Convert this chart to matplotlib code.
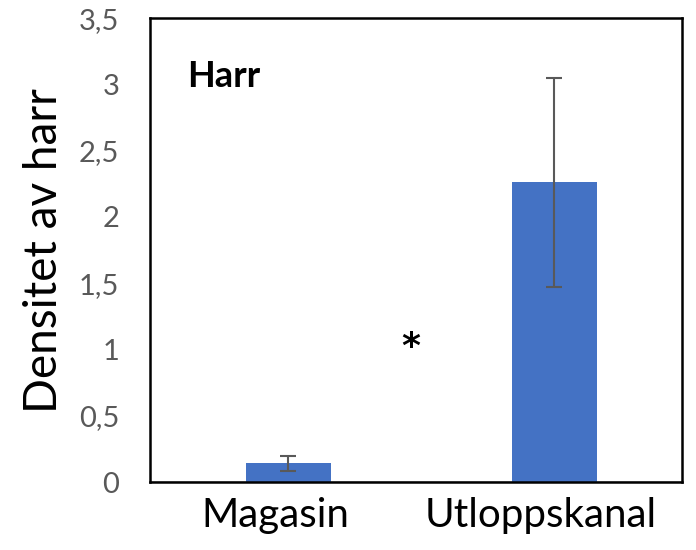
import matplotlib.pyplot as plt
from matplotlib.ticker import FuncFormatter

categories = ['Magasin', 'Utloppskanal']
values = [0.14, 2.26]
errors = [0.06, 0.79]
yticks = [0, 0.5, 1, 1.5, 2, 2.5, 3, 3.5]

plt.rcParams['font.family'] = ['Lato', 'DejaVu Sans']

fig = plt.figure(figsize=(6.96, 5.5), dpi=100)
ax = fig.add_axes([0.2155, 0.1236, 0.7645, 0.8434])

x = list(range(len(categories)))
ax.bar(x, values, width=0.32, color='#4472C4', zorder=2)
ax.errorbar(x, values, yerr=errors, fmt='none', ecolor='#595959',
            elinewidth=1.5, capsize=6, capthick=1.5, zorder=3)

ax.set_xlim(-0.52, 1.48)
ax.set_ylim(0, 3.5)
ax.set_yticks(yticks)
ax.yaxis.set_major_formatter(FuncFormatter(lambda v, p: ('%g' % v).replace('.', ',')))
# labels sit slightly left of the bar centres in the original
ax.set_xticks([i - 0.05 for i in x])
ax.set_xticklabels(categories)
ax.tick_params(axis='y', length=0, labelsize=21, labelcolor='#595959', pad=22)
ax.tick_params(axis='x', length=0, labelsize=29, labelcolor='black', pad=11)
ax.set_ylabel('Densitet av harr', fontsize=33, labelpad=10)

for s in ax.spines.values():
    s.set_linewidth(1.8)
    s.set_color('black')
ax.axhline(0, color='#BFBFBF', linewidth=1.2, zorder=1)

ax.text(0.07, 0.875, 'Harr', transform=ax.transAxes, fontsize=26,
        fontweight='bold', va='center')
ax.text(0.46, 1.02, '*', fontsize=26, fontweight='bold', ha='center',
        va='center', family='DejaVu Sans')

fig.savefig('out.png', dpi=100)
